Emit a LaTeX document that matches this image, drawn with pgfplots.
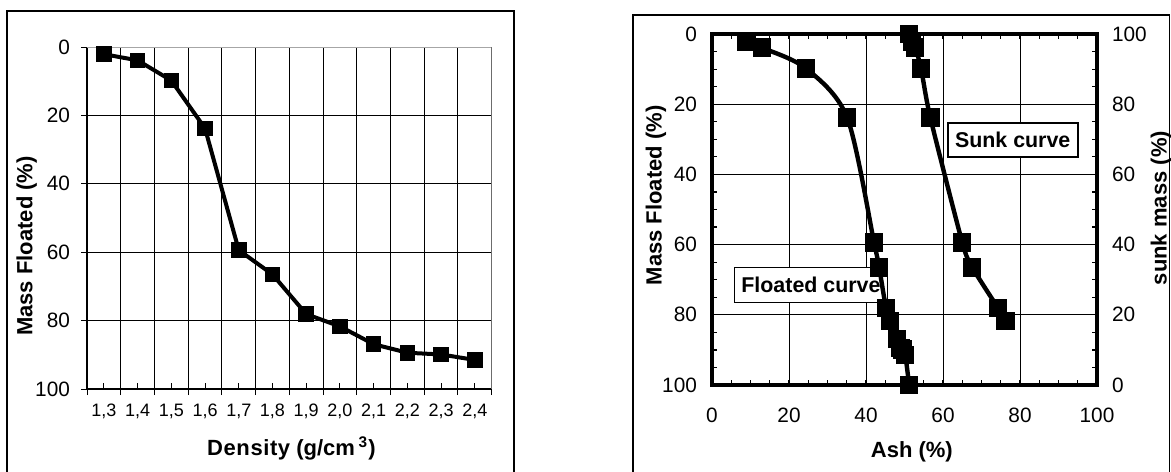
\documentclass[border=0pt]{standalone}
\usepackage{fontspec}
\setmainfont{Liberation Sans}
\usepackage{pgfplots}
\pgfplotsset{compat=1.18}

\pgfplotsset{
  every axis/.append style={
    /pgf/number format/assume math mode=true,
    tick label style={font=\fontsize{10.4}{12}\selectfont},
    label style={font=\bfseries\fontsize{11}{13}\selectfont},
  }
}

\begin{document}
\begin{tikzpicture}
\useasboundingbox (0,0) rectangle (585.5pt,235.5pt);
% panel frames
\draw[line width=0.6pt] (3.5pt,-2pt) -- (3.5pt,230pt) -- (257pt,230pt) -- (257pt,-2pt);
\draw[line width=0.6pt] (316.5pt,-2pt) -- (316.5pt,228pt) -- (584.7pt,228pt) -- (584.7pt,-2pt);

% ---- left: mass floated vs density
\begin{axis}[
  at={(43.5pt,41pt)}, anchor=south west,
  scale only axis, width=202.35pt, height=171pt,
  xmin=0.5, xmax=12.5, ymin=0, ymax=100, y dir=reverse,
  axis x line*=bottom, axis y line*=left,
  axis line style={black, line width=0.6pt, -},
  xtick={0.5,1.5,...,12.5}, xticklabels={},
  ytick={0,20,...,100},
  tick align=outside, major tick length=3pt,
  tick style={black, line width=0.5pt},
  grid=major, major grid style={black, line width=0.5pt},
  extra x ticks={1,2,...,12},
  extra x tick labels={{1,3},{1,4},{1,5},{1,6},{1,7},{1,8},{1,9},{2,0},{2,1},{2,2},{2,3},{2,4}},
  extra x tick style={tick align=inside, grid=none,
    xticklabel style={font=\fontsize{9}{10}\selectfont, yshift=-4pt}},
  yticklabel style={xshift=-2pt},
  xlabel={D\kern0.3pt e\kern0.3pt n\kern0.3pt s\kern0.3pt i\kern0.3pt t\kern0.3pt y (g/cm\,\textsuperscript{3})},
  ylabel={Mass Floated (\%)},
  xlabel style={at={(axis description cs:0.505,-0.1725)}, anchor=center},
  ylabel style={at={(axis description cs:-0.149,0.418)}, anchor=center},
]
\draw[black!35, line width=0.6pt] (axis description cs:0,1) -- (axis description cs:1,1) -- (axis description cs:1,0);
\addplot[black, line width=2pt, mark=square*, mark size=2.9pt] coordinates {
  (1,2.1) (2,3.9) (3,9.8) (4,23.8) (5,59.4) (6,66.5)
  (7,78.1) (8,81.7) (9,86.9) (10,89.4) (11,89.9) (12,91.5)
};
\end{axis}

% ---- right: washability curves
\begin{axis}[
  at={(356pt,43pt)}, anchor=south west,
  scale only axis, width=192.5pt, height=175.5pt,
  xmin=0, xmax=100, ymin=0, ymax=100, y dir=reverse,
  axis line style={black, line width=2.2pt},
  xtick={0,20,...,100}, ytick={0,20,...,100},
  minor tick num=3,
  tick align=inside, major tick length=2.5pt, minor tick length=2.5pt,
  tick style={black, line width=0.6pt},
  yticklabel pos=left,
  grid=major, major grid style={black, line width=0.5pt},
  xticklabel style={yshift=-8pt},
  yticklabel style={xshift=-4pt},
  xlabel={Ash (\%)},
  ylabel={Mass Floated (\%)},
  xlabel style={at={(axis description cs:0.519,-0.191)}, anchor=center},
  ylabel style={at={(axis description cs:-0.1455,0.54)}, anchor=center},
]
\node[draw, line width=0.9pt, fill=white, font=\bfseries\fontsize{10.7}{13}\selectfont,
  minimum width=65pt, minimum height=17pt, inner sep=0pt] at (axis cs:78.1,30.2) {Sunk curve};
\node[draw, line width=0.9pt, fill=white, font=\bfseries\fontsize{10.7}{13}\selectfont,
  minimum width=76.5pt, minimum height=17.5pt, inner sep=0pt] at (axis cs:25.7,71.5) {Floated curve};
\addplot[black, line width=2.2pt, mark=square*, mark size=3.5pt, smooth, tension=0.5] coordinates {
  (9.0,2.1) (13.0,3.9) (24.4,9.8) (35.1,23.8) (42.1,59.4) (43.4,66.5)
  (45.2,78.1) (46.2,81.7) (48.1,86.9) (49.0,89.4) (49.5,89.9) (50.2,91.5) (51.2,100)
};
\end{axis}

\begin{axis}[
  at={(356pt,43pt)}, anchor=south west,
  scale only axis, width=192.5pt, height=175.5pt,
  xmin=0, xmax=100, ymin=0, ymax=100,
  axis x line=none, axis y line*=right,
  axis line style={draw=none},
  ytick={0,20,...,100}, tick style={draw=none},
  yticklabel style={xshift=4pt},
  ylabel={sunk mass (\%)},
  ylabel style={at={(axis description cs:1.166,0.504)}, anchor=center},
]
\addplot[black, line width=2.2pt, mark=square*, mark size=3.5pt, smooth, tension=0.4] coordinates {
  (51.2,100) (52.0,97.9) (52.8,96.1) (54.3,90.2) (56.7,76.2)
  (65.0,40.6) (67.6,33.5) (74.3,21.9) (76.2,18.3)
};
\end{axis}
\end{tikzpicture}
\end{document}
